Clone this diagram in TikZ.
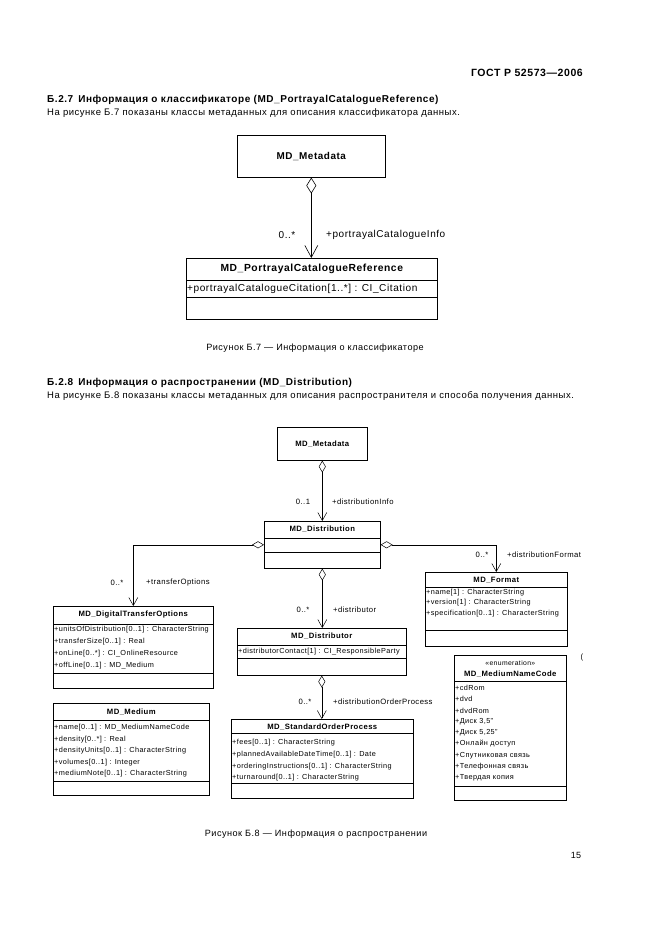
\documentclass[tikz,border=0pt]{standalone}
\usepackage{fontspec}
\setmainfont[LetterSpace=5.5]{Liberation Sans}
\usepackage{tikz}
\usetikzlibrary{arrows.meta}
\tikzset{
	Page/.style={x=1pt, y=-1pt},
	cls/.style={draw, line width=0.6pt, inner sep=0pt, anchor=north west},
	ttl/.style={inner sep=0pt, font=\bfseries\fontsize{7.7}{9}\selectfont},
	attr/.style={anchor=west, inner sep=1pt, font=\fontsize{7.3}{9}\selectfont},
	lbl/.style={inner sep=0pt, font=\fontsize{7.7}{9}\selectfont},
	assoc/.style={line width=0.5pt, {Diamond[open,length=12pt,width=7pt]}-{Straight Barb[length=8pt,width=9pt]}},
	txt/.style={anchor=west, inner sep=0pt, font=\fontsize{9.5}{11}\selectfont}
}

\begin{document}
\begin{tikzpicture}[Page]
		\useasboundingbox (0,0) rectangle (661,936);

		% Page text
		\node[anchor=east, inner sep=0pt, font=\bfseries\fontsize{10.5}{12}\selectfont] (head) at (583,73) {ГОСТ Р 52573—2006};
		\node[txt, font=\bfseries\fontsize{10}{11}\selectfont] (sec7) at (47,100) {Б.2.7\hspace{5pt}Информация о классификаторе (MD\_PortrayalCatalogueReference)};
		\node[txt] (par7) at (47,113) {На рисунке Б.7 показаны классы метаданных для описания классификатора данных.};
		\node[inner sep=0pt, font=\fontsize{9.1}{10}\selectfont] (cap7) at (315,348) {Рисунок Б.7 — Информация о классификаторе};
		\node[txt, font=\bfseries\fontsize{10}{11}\selectfont] (sec8) at (47,383) {Б.2.8\hspace{5pt}Информация о распространении (MD\_Distribution)};
		\node[txt] (par8) at (47,396) {На рисунке Б.8 показаны классы метаданных для описания распространителя и способа получения данных.};
		\node[inner sep=0pt, font=\fontsize{9.1}{10}\selectfont] (cap8) at (316,834) {Рисунок Б.8 — Информация о распространении};
		\node[inner sep=0pt, font=\fontsize{9}{10}\selectfont] (pnum) at (576,855) {15};

		% Figure B.7
		\node[cls, minimum width=148pt, minimum height=42pt] (meta) at (237,135) {};
		\node[ttl, font=\bfseries\fontsize{9.9}{12}\selectfont] (meta-t) at (meta.center) {MD\_Metadata};

		\node[cls, minimum width=251pt, minimum height=61pt] (pcr) at (186,258) {};
		\draw[line width=0.6pt] ([yshift=-22pt]pcr.north west) -- ([yshift=-22pt]pcr.north east);
		\draw[line width=0.6pt] ([yshift=-39pt]pcr.north west) -- ([yshift=-39pt]pcr.north east);
		\node[ttl, font=\bfseries\fontsize{10.3}{12}\selectfont] (pcr-t) at ([yshift=-11pt]pcr.north) {MD\_PortrayalCatalogueReference};
		\node[attr, font=\fontsize{10.1}{12}\selectfont] (pcr-a) at ([yshift=-31pt]pcr.north west) {+portrayalCatalogueCitation[1..*] : CI\_Citation};

		\draw[line width=0.6pt, {Diamond[open,length=16pt,width=10pt]}-{Straight Barb[length=12pt,width=13pt]}] (meta.south) -- (meta.south |- pcr.north);
		\node[lbl, font=\fontsize{10}{12}\selectfont] (pcr-m) at (287,235) {0..*};
		\node[lbl, anchor=west, font=\fontsize{10}{12}\selectfont] (pcr-r) at (326,235) {+portrayalCatalogueInfo};

		% Figure B.8
		\node[cls, minimum width=90pt, minimum height=33pt] (meta2) at (277,427) {};
		\node[ttl] (meta2-t) at (meta2.center) {MD\_Metadata};

		\node[cls, minimum width=116pt, minimum height=47pt] (dist) at (264,521) {};
		\draw ([yshift=-17pt]dist.north west) -- ([yshift=-17pt]dist.north east);
		\draw ([yshift=-31pt]dist.north west) -- ([yshift=-31pt]dist.north east);
		\node[ttl] (dist-t) at ([yshift=-8.5pt]dist.north) {MD\_Distribution};

		\node[cls, minimum width=160pt, minimum height=82pt] (dto) at (53,606) {};
		\draw ([yshift=-18pt]dto.north west) -- ([yshift=-18pt]dto.north east);
		\draw ([yshift=-67pt]dto.north west) -- ([yshift=-67pt]dto.north east);
		\node[ttl] (dto-t) at ([yshift=-9pt]dto.north) {MD\_DigitalTransferOptions};
		\foreach \t [count=\i] in {{+unitsOfDistribution[0..1] : CharacterString},{+transferSize[0..1] : Real},{+onLine[0..*] : CI\_OnlineResource},{+offLine[0..1] : MD\_Medium}}
			\node[attr] (dto-a\i) at ([yshift={-24pt-(\i-1)*12pt}]dto.north west) {\t};

		\node[cls, minimum width=142pt, minimum height=74pt] (fmt) at (425,572) {};
		\draw ([yshift=-15pt]fmt.north west) -- ([yshift=-15pt]fmt.north east);
		\draw ([yshift=-58pt]fmt.north west) -- ([yshift=-58pt]fmt.north east);
		\node[ttl] (fmt-t) at ([yshift=-8pt]fmt.north) {MD\_Format};
		\foreach \t [count=\i] in {{+name[1] : CharacterString},{+version[1] : CharacterString},{+specification[0..1] : CharacterString}}
			\node[attr] (fmt-a\i) at ([yshift={-20.5pt-(\i-1)*10.5pt}]fmt.north west) {\t};

		\node[cls, minimum width=169pt, minimum height=47pt] (distr) at (237,628) {};
		\draw ([yshift=-17pt]distr.north west) -- ([yshift=-17pt]distr.north east);
		\draw ([yshift=-30pt]distr.north west) -- ([yshift=-30pt]distr.north east);
		\node[ttl] (distr-t) at ([yshift=-8.5pt]distr.north) {MD\_Distributor};
		\node[attr] (distr-a) at ([yshift=-23.5pt]distr.north west) {+distributorContact[1] : CI\_ResponsibleParty};

		\node[cls, minimum width=182pt, minimum height=79pt] (sop) at (231,719) {};
		\draw ([yshift=-14pt]sop.north west) -- ([yshift=-14pt]sop.north east);
		\draw ([yshift=-64pt]sop.north west) -- ([yshift=-64pt]sop.north east);
		\node[ttl] (sop-t) at ([yshift=-8pt]sop.north) {MD\_StandardOrderProcess};
		\foreach \t [count=\i] in {{+fees[0..1] : CharacterString},{+plannedAvailableDateTime[0..1] : Date},{+orderingInstructions[0..1] : CharacterString},{+turnaround[0..1] : CharacterString}}
			\node[attr] (sop-a\i) at ([yshift={-24pt-(\i-1)*11.7pt}]sop.north west) {\t};

		\node[cls, minimum width=156pt, minimum height=92pt] (med) at (53,703) {};
		\draw ([yshift=-17pt]med.north west) -- ([yshift=-17pt]med.north east);
		\draw ([yshift=-78pt]med.north west) -- ([yshift=-78pt]med.north east);
		\node[ttl] (med-t) at ([yshift=-9pt]med.north) {MD\_Medium};
		\foreach \t [count=\i] in {{+name[0..1] : MD\_MediumNameCode},{+density[0..*] : Real},{+densityUnits[0..1] : CharacterString},{+volumes[0..1] : Integer},{+mediumNote[0..1] : CharacterString}}
			\node[attr] (med-a\i) at ([yshift={-25pt-(\i-1)*11.5pt}]med.north west) {\t};

		\node[cls, minimum width=112pt, minimum height=145pt] (mnc) at (454,655) {};
		\draw ([yshift=-26pt]mnc.north west) -- ([yshift=-26pt]mnc.north east);
		\draw ([yshift=-131pt]mnc.north west) -- ([yshift=-131pt]mnc.north east);
		\node[lbl, font=\fontsize{6.8}{8}\selectfont] (mnc-s) at ([yshift=-8.5pt]mnc.north) {«enumeration»};
		\node[ttl] (mnc-t) at ([yshift=-19pt]mnc.north) {MD\_MediumNameCode};
		\foreach \t [count=\i] in {{+cdRom},{+dvd},{+dvdRom},{+Диск 3,5"},{+Диск 5,25"},{+Онлайн доступ},{+Спутниковая связь},{+Телефонная связь},{+Твердая копия}}
			\node[attr] (mnc-a\i) at ([yshift={-33pt-(\i-1)*11.2pt}]mnc.north west) {\t};
		\node[lbl] (stray) at (582,657) {(};

		% Associations
		\draw[assoc] (meta2.south) -- (meta2.south |- dist.north);
		\node[lbl] (dist-m) at (303,502) {0..1};
		\node[lbl, anchor=west] (dist-r) at (332,502) {+distributionInfo};

		\draw[assoc] (dist.west) -| (dto.north);
		\node[lbl] (dto-m) at (117,583) {0..*};
		\node[lbl, anchor=west] (dto-r) at (146,583) {+transferOptions};

		\draw[assoc] (dist.east) -| (fmt.north);
		\node[lbl] (fmt-m) at (482,555) {0..*};
		\node[lbl, anchor=west] (fmt-r) at (507,555) {+distributionFormat};

		\draw[assoc] (dist.south) -- (dist.south |- distr.north);
		\node[lbl] (distr-m) at (303,610) {0..*};
		\node[lbl, anchor=west] (distr-r) at (333,610) {+distributor};

		\draw[assoc] (distr.south) -- (distr.south |- sop.north);
		\node[lbl] (sop-m) at (305,702) {0..*};
		\node[lbl, anchor=west] (sop-r) at (333,702) {+distributionOrderProcess};
	\end{tikzpicture}
\end{document}
